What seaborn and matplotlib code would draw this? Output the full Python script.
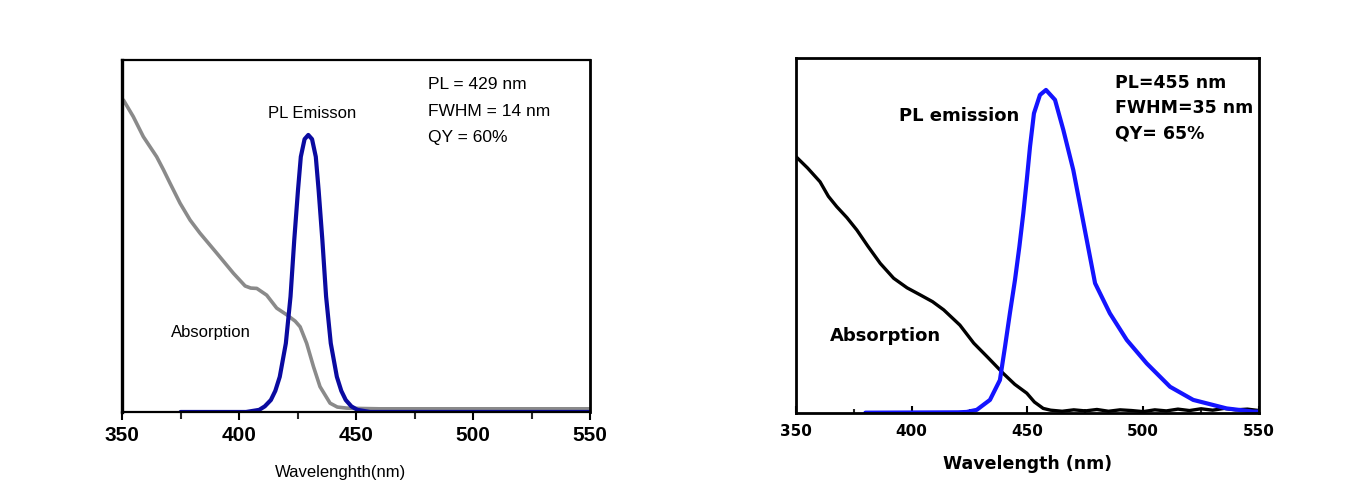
import seaborn as sns
import matplotlib.pyplot as plt
from matplotlib.ticker import MultipleLocator

# ---- left panel: PL = 429 nm sample ----
left_abs_nm = [350, 350.6, 354.8, 359.1, 364.8, 367.7, 370.5, 374.8, 379.1, 383.3, 390.5, 397.6,
               402.6, 405, 407.6, 411.8, 416.1, 420.4, 424, 426.1, 428.9, 431.8, 434.6, 438.9,
               442, 446, 451.7, 460, 550]
left_abs = [0.888, 0.886, 0.839, 0.782, 0.725, 0.688, 0.650, 0.593, 0.545, 0.508, 0.451, 0.394,
            0.358, 0.352, 0.351, 0.332, 0.295, 0.276, 0.258, 0.242, 0.195, 0.129, 0.072, 0.025,
            0.014, 0.011, 0.010, 0.009, 0.009]

left_pl_nm = [375, 403, 408.6, 411, 413.6, 415.5, 417.4, 420.0, 422.0, 423.6, 425.2, 426.4, 428,
              429.6, 431.2, 432.8, 434.0, 435.6, 437.2, 439.2, 441.8, 443.7, 445.6, 448, 450.6,
              456, 550]
left_pl = [0.0, 0.0, 0.006, 0.016, 0.034, 0.06, 0.100, 0.195, 0.328, 0.489, 0.631, 0.725, 0.775,
           0.787, 0.775, 0.725, 0.631, 0.489, 0.328, 0.195, 0.100, 0.06, 0.034, 0.016, 0.006,
           0.0, 0.0]

# ---- right panel: PL = 455 nm sample ----
right_abs_nm = [350, 355, 360.4, 364, 367.6, 372, 376.3, 381, 386.4, 392.2, 398, 403.7, 409, 413.8,
                420.8, 426.8, 433, 439.5, 444.5, 449.7, 453, 456.8, 460, 465, 470, 475, 480, 485,
                490, 495, 500, 505, 510, 515, 520, 525, 530, 535, 540, 545, 550]
right_abs = [0.722, 0.69, 0.651, 0.61, 0.581, 0.55, 0.515, 0.47, 0.421, 0.379, 0.352, 0.332, 0.313,
             0.290, 0.247, 0.196, 0.155, 0.111, 0.080, 0.055, 0.030, 0.012, 0.007, 0.004, 0.008,
             0.005, 0.009, 0.004, 0.008, 0.006, 0.003, 0.008, 0.005, 0.010, 0.006, 0.011, 0.007,
             0.012, 0.008, 0.010, 0.006]

right_pl_nm = [380, 420, 423.7, 428.1, 433.8, 438.1, 440.3, 442.4, 444.6, 446.5, 448.2, 449.7,
               451.1, 452.8, 455.4, 458, 461.9, 465.5, 469.8, 473.4, 479.2, 485.6, 492.9, 501.5,
               511.6, 521.6, 536, 547.5, 550]
right_pl = [0.0, 0.001, 0.002, 0.008, 0.036, 0.092, 0.186, 0.280, 0.374, 0.468, 0.562, 0.656,
            0.750, 0.844, 0.896, 0.910, 0.882, 0.797, 0.684, 0.562, 0.365, 0.280, 0.205, 0.139,
            0.073, 0.036, 0.012, 0.003, 0.003]

left_notes = ['PL = 429 nm', 'FWHM = 14 nm', 'QY = 60%']
right_notes = ['PL=455 nm', 'FWHM=35 nm', 'QY= 65%']

sns.set_style('white')
plt.rcParams['font.family'] = ['Liberation Sans', 'DejaVu Sans']
plt.rcParams['text.color'] = 'black'
plt.rcParams['axes.labelcolor'] = 'black'

fig = plt.figure(figsize=(13.53, 4.96), dpi=100)
ax1 = fig.add_axes([0.0902, 0.1694, 0.3459, 0.7097])
ax2 = fig.add_axes([0.5883, 0.168, 0.3422, 0.715])

# left panel
sns.lineplot(x=left_abs_nm, y=left_abs, ax=ax1, color='#8a8a8a', linewidth=2.6)
sns.lineplot(x=left_pl_nm, y=left_pl, ax=ax1, color='#0a0aa0', linewidth=3)
ax1.set_xlim(350, 550)
ax1.set_ylim(0, 1)
ax1.set_yticks([])
ax1.xaxis.set_major_locator(MultipleLocator(50))
ax1.xaxis.set_minor_locator(MultipleLocator(25))
ax1.tick_params(axis='x', which='major', direction='out', length=6, width=1.5, pad=4,
                bottom=True, labelsize=15, colors='black')
ax1.tick_params(axis='x', which='minor', direction='out', length=5, width=1.5, bottom=True)
for lab in ax1.get_xticklabels():
    lab.set_fontweight('bold')
for side in ['left', 'right', 'top', 'bottom']:
    ax1.spines[side].set_visible(True)
    ax1.spines[side].set_color('black')
ax1.spines['left'].set_linewidth(2.4)
ax1.spines['right'].set_linewidth(2)
ax1.spines['top'].set_linewidth(1.6)
ax1.spines['bottom'].set_linewidth(1.6)
ax1.set_xlabel('Wavelenghth(nm)', fontsize=12)
ax1.xaxis.set_label_coords(0.467, -0.15)
ax1.set_ylabel('')
for i, note in enumerate(left_notes):
    ax1.text(480.8, 0.929 - 0.074 * i, note, fontsize=12.5, ha='left', va='center')
ax1.text(431.4, 0.849, 'PL Emisson', fontsize=12, ha='center', va='center')
ax1.text(370.9, 0.225, 'Absorption', fontsize=12, ha='left', va='center')

# right panel
sns.lineplot(x=right_abs_nm, y=right_abs, ax=ax2, color='black', linewidth=2.4)
sns.lineplot(x=right_pl_nm, y=right_pl, ax=ax2, color='#1414ff', linewidth=3)
ax2.set_xlim(350, 550)
ax2.set_ylim(0, 1)
ax2.set_yticks([])
ax2.xaxis.set_major_locator(MultipleLocator(50))
ax2.xaxis.set_minor_locator(MultipleLocator(25))
ax2.tick_params(axis='x', which='major', direction='in', length=5, width=1.5, pad=8,
                bottom=True, labelsize=11, colors='black')
ax2.tick_params(axis='x', which='minor', direction='in', length=3, width=1.5, bottom=True)
for lab in ax2.get_xticklabels():
    lab.set_fontweight('bold')
    lab.set_family('DejaVu Sans')
for side in ['left', 'right', 'top', 'bottom']:
    ax2.spines[side].set_visible(True)
    ax2.spines[side].set_color('black')
    ax2.spines[side].set_linewidth(2)
ax2.set_xlabel('Wavelength (nm)', fontsize=12.5, fontweight='bold', family='DejaVu Sans')
ax2.xaxis.set_label_coords(0.50, -0.119)
ax2.set_ylabel('')
for i, note in enumerate(right_notes):
    ax2.text(487.8, 0.931 - 0.0715 * i, note, fontsize=12.5, fontweight='bold',
             family='DejaVu Sans', ha='left', va='center')
ax2.text(394.3, 0.836, 'PL emission', fontsize=13, fontweight='bold', family='DejaVu Sans',
         ha='left', va='center')
ax2.text(364.7, 0.216, 'Absorption', fontsize=13, fontweight='bold', family='DejaVu Sans',
         ha='left', va='center')

fig.savefig('out.png', dpi=100)
